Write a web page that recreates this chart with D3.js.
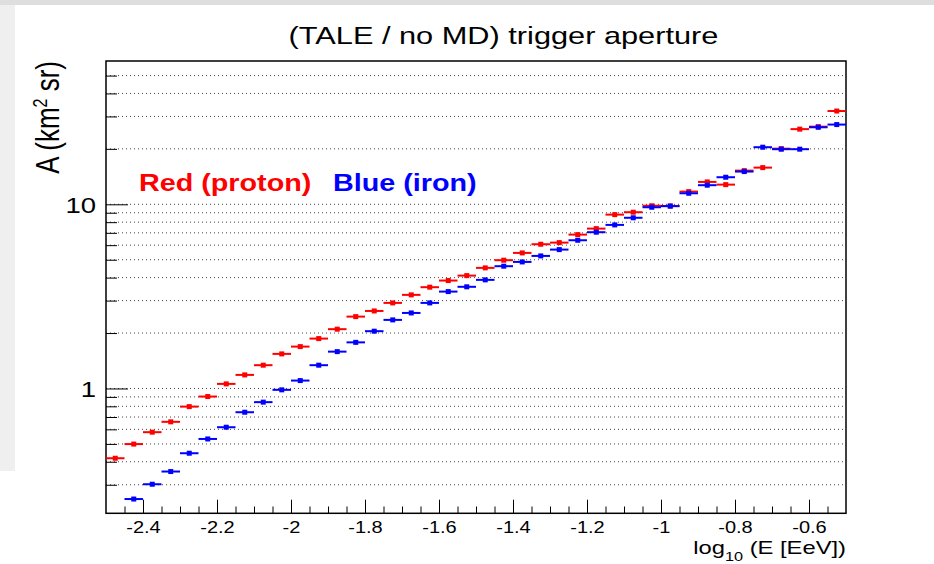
<!DOCTYPE html>
<html>
<head>
<meta charset="utf-8">
<script src="https://cdn.jsdelivr.net/npm/d3@7"></script>
<style>
  html, body { margin: 0; padding: 0; background: #fff; }
  svg { display: block; font-family: "Liberation Sans", Arial, Helvetica, sans-serif; }
</style>
</head>
<body>
<svg id="chart" width="934" height="564"></svg>
<script>
// Energy bins: log10(E/EeV) bin centres, 0.05 wide
const binCenters = [
  -2.475, -2.425, -2.375, -2.325, -2.275, -2.225, -2.175, -2.125, -2.075, -2.025,
  -1.975, -1.925, -1.875, -1.825, -1.775, -1.725, -1.675, -1.625, -1.575, -1.525,
  -1.475, -1.425, -1.375, -1.325, -1.275, -1.225, -1.175, -1.125, -1.075, -1.025,
  -0.975, -0.925, -0.875, -0.825, -0.775, -0.725, -0.675, -0.625, -0.575, -0.525
];
const binHalfWidth = 0.025;

// Trigger aperture A (km^2 sr), proton primaries
const protonAperture = [
  0.418, 0.499, 0.579, 0.659, 0.797, 0.904, 1.059, 1.185, 1.338, 1.541,
  1.688, 1.866, 2.099, 2.456, 2.636, 2.915, 3.223, 3.548, 3.855, 4.10,
  4.517, 4.972, 5.446, 6.07, 6.195, 6.847, 7.38, 8.79, 9.06, 9.82,
  9.80, 11.72, 13.23, 12.79, 15.24, 15.82, 20.05, 25.6, 26.4, 32.1
];

// Trigger aperture A (km^2 sr), iron primaries (no entry in the first bin)
const ironAperture = [
  null, 0.251, 0.302, 0.354, 0.445, 0.532, 0.616, 0.743, 0.843, 0.983,
  1.104, 1.338, 1.585, 1.78, 2.047, 2.357, 2.571, 2.915, 3.358, 3.565,
  3.888, 4.613, 4.866, 5.245, 5.677, 6.38, 7.056, 7.73, 8.45, 9.64,
  9.77, 11.48, 12.7, 14.03, 15.06, 20.42, 19.92, 19.92, 26.2, 27.1
];

const xMajorTicks = [-2.4, -2.2, -2, -1.8, -1.6, -1.4, -1.2, -1, -0.8, -0.6];
const xTickLabels = ["-2.4", "-2.2", "-2", "-1.8", "-1.6", "-1.4", "-1.2", "-1", "-0.8", "-0.6"];
const yMajorTicks = [1, 10];
const yTickLabels = ["1", "10"];
const yMinorTicks = [0.3, 0.4, 0.5, 0.6, 0.7, 0.8, 0.9, 2, 3, 4, 5, 6, 7, 8, 9, 20, 30, 40, 50];

const svg = d3.select("#chart");
const W = 934, H = 564;
const plot = { left: 106, right: 846, top: 61, bottom: 513.3 };
const TEXT_STRETCH = 1.25;

// slide background strips
svg.append("rect").attr("x", 0).attr("y", 0).attr("width", W).attr("height", 5).attr("fill", "#dedede");
svg.append("rect").attr("x", 0).attr("y", 5).attr("width", 15).attr("height", 466).attr("fill", "#efefef");

const x = d3.scaleLinear().domain([-2.5, -0.5]).range([plot.left, plot.right]);
const y = d3.scaleLog().domain([0.21, 60]).range([plot.bottom, plot.top]);

// dotted horizontal grid at every decade subdivision
const gridValues = yMajorTicks.concat(yMinorTicks);
svg.append("g").selectAll("line").data(gridValues).join("line")
  .attr("x1", plot.left).attr("x2", plot.right)
  .attr("y1", d => y(d)).attr("y2", d => y(d))
  .attr("stroke", "#444").attr("stroke-width", 1)
  .attr("stroke-dasharray", "1 3");

// x axis: major ticks with labels, minor ticks every 0.05
const xMinorTicks = d3.range(-49, -10).map(k => Math.round(k * 5) / 100).filter(v => v > -2.5 && v < -0.5);
const xAxisMinor = d3.axisBottom(x).tickValues(xMinorTicks).tickFormat("")
  .tickSizeInner(-6.8).tickSizeOuter(0);
const xAxisMajor = d3.axisBottom(x).tickValues(xMajorTicks)
  .tickFormat((d, i) => xTickLabels[i])
  .tickSizeInner(-13.6).tickSizeOuter(0).tickPadding(6);

const gxMinor = svg.append("g").attr("transform", `translate(0,${plot.bottom})`).call(xAxisMinor);
const gxMajor = svg.append("g").attr("transform", `translate(0,${plot.bottom})`).call(xAxisMajor);
[gxMinor, gxMajor].forEach(g => {
  g.select(".domain").remove();
  g.selectAll(".tick line").attr("stroke", "#000").attr("stroke-width", 1);
});
gxMajor.selectAll(".tick text")
  .attr("font-size", 16).attr("fill", "#000")
  .attr("dy", null).attr("y", 0)
  .attr("transform", `translate(0,19.5) scale(${TEXT_STRETCH},1)`);

// y axis: log ticks, labelled at 1 and 10
const yAxisMinor = d3.axisLeft(y).tickValues(yMinorTicks).tickFormat("")
  .tickSizeInner(-11).tickSizeOuter(0);
const yAxisMajor = d3.axisLeft(y).tickValues(yMajorTicks)
  .tickFormat((d, i) => yTickLabels[i])
  .tickSizeInner(-22).tickSizeOuter(0).tickPadding(8);
const gyMinor = svg.append("g").attr("transform", `translate(${plot.left},0)`).call(yAxisMinor);
const gyMajor = svg.append("g").attr("transform", `translate(${plot.left},0)`).call(yAxisMajor);
[gyMinor, gyMajor].forEach(g => {
  g.select(".domain").remove();
  g.selectAll(".tick line").attr("stroke", "#000").attr("stroke-width", 1);
});
gyMajor.selectAll(".tick text")
  .attr("font-size", 22).attr("fill", "#000")
  .attr("dy", "0.36em")
  .attr("transform", `scale(${TEXT_STRETCH},1)`);

// frame
svg.append("rect")
  .attr("x", plot.left).attr("y", plot.top)
  .attr("width", plot.right - plot.left).attr("height", plot.bottom - plot.top)
  .attr("fill", "none").attr("stroke", "#000").attr("stroke-width", 1.5);

// data: horizontal bin-width bars with a small square marker
function drawSeries(values, color) {
  const pts = binCenters.map((c, i) => ({ c, v: values[i] })).filter(p => p.v != null);
  const g = svg.append("g");
  g.selectAll("line").data(pts).join("line")
    .attr("x1", p => x(p.c - binHalfWidth)).attr("x2", p => x(p.c + binHalfWidth))
    .attr("y1", p => y(p.v)).attr("y2", p => y(p.v))
    .attr("stroke", color).attr("stroke-width", 2);
  g.selectAll("rect").data(pts).join("rect")
    .attr("x", p => x(p.c) - 2.5).attr("y", p => y(p.v) - 2.5)
    .attr("width", 5).attr("height", 5)
    .attr("fill", color);
}
drawSeries(protonAperture, "#ff0000");
drawSeries(ironAperture, "#0000ff");

// stretched text helper
function label(xp, yp, opts) {
  const g = svg.append("g")
    .attr("transform", `translate(${xp},${yp}) scale(${TEXT_STRETCH},1)` + (opts.rotate ? ` rotate(${opts.rotate})` : ""));
  return g.append("text")
    .attr("text-anchor", opts.anchor || "start")
    .attr("font-size", opts.size)
    .attr("font-weight", opts.weight || "normal")
    .attr("fill", opts.color || "#000");
}

// title
label(503.5, 43.5, { size: 24.6, anchor: "middle" }).text("(TALE / no MD) trigger aperture");

// in-plot legend
label(139, 191, { size: 23, weight: "bold", color: "#ff0000" }).text("Red (proton)");
label(333, 191, { size: 23, weight: "bold", color: "#0000ff" }).text("Blue (iron)");

// y axis title
const yt = label(59, 61, { size: 26, anchor: "end", rotate: -90 });
yt.append("tspan").text("A (km");
yt.append("tspan").attr("font-size", 16).attr("dy", -10).text("2");
yt.append("tspan").attr("dy", 10).text(" sr)");

// x axis title
const xt = label(846, 554, { size: 19, anchor: "end" });
xt.append("tspan").text("log");
xt.append("tspan").attr("font-size", 13).attr("dy", 7).text("10");
xt.append("tspan").attr("dy", -7).text(" (E [EeV])");
</script>
</body>
</html>
